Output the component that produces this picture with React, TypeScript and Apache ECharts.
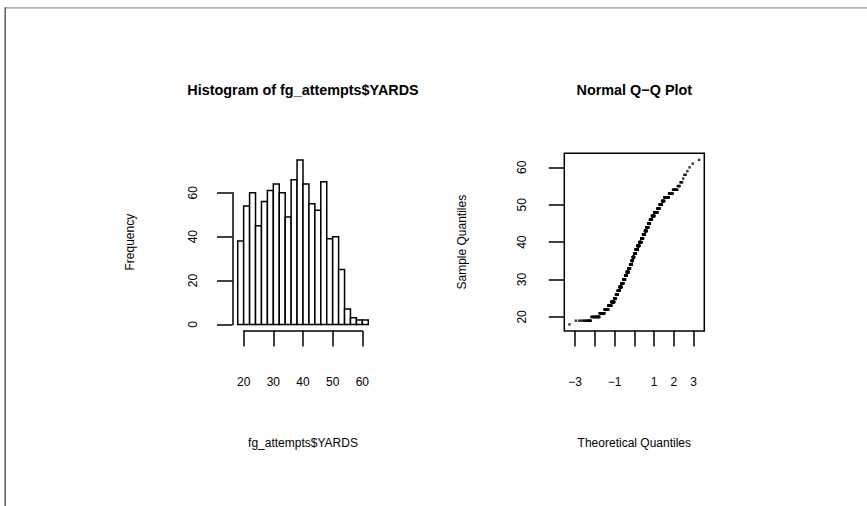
import React, { useEffect, useRef } from "react";
import * as echarts from "echarts";

// ---------- data ----------
const histTitle = "Histogram of fg_attempts$YARDS";
const histXLabel = "fg_attempts$YARDS";
const histYLabel = "Frequency";
const binEdges = [18, 20, 22, 24, 26, 28, 30, 32, 34, 36, 38, 40, 42, 44, 46, 48, 50, 52, 54, 56, 58, 60, 62];
const histCounts = [38, 54, 60, 45, 56, 61, 64, 60, 49, 66, 75, 64, 55, 52, 65, 39, 40, 25, 7, 3, 2, 2];
const histXTicks = [20, 30, 40, 50, 60];
const histYTicks = [0, 20, 40, 60];

const qqTitle = "Normal Q\u2212Q Plot";
const qqXLabel = "Theoretical Quantiles";
const qqYLabel = "Sample Quantiles";
const yardValues = [18, 19, 20, 21, 22, 23, 24, 25, 26, 27, 28, 29, 30, 31, 32, 33, 34, 35, 36, 37, 38, 39, 40,
  41, 42, 43, 44, 45, 46, 47, 48, 49, 50, 51, 52, 53, 54, 55, 56, 57, 58, 59, 60, 61, 62];
const yardCounts = [1, 13, 24, 26, 28, 28, 32, 21, 24, 27, 29, 30, 31, 31, 33, 29, 31, 23, 26, 32, 34, 36, 39,
  31, 33, 27, 28, 25, 27, 31, 34, 19, 20, 16, 24, 14, 11, 4, 3, 1, 2, 1, 1, 1, 1];
const qqXTicks = [-3, -2, -1, 0, 1, 2, 3];
const qqXTickLabels = ["\u22123", "", "\u22121", "", "1", "2", "3"];
const qqYTicks = [20, 30, 40, 50, 60];

// ---------- layout ----------
const FONT = '"Liberation Sans", Arial, Helvetica, sans-serif';
const LW = 1.5;
const histPlot = { left: 232.5, top: 153.3, width: 141, height: 177.7 };
const qqPlot = { left: 564.3, top: 153.3, width: 140, height: 177.7 };
const titleY = 90.3;

function qnorm(p: number): number {
  const a = [-3.969683028665376e1, 2.209460984245205e2, -2.759285104469687e2, 1.38357751867269e2, -3.066479806614716e1, 2.506628277459239];
  const b = [-5.447609879822406e1, 1.615858368580409e2, -1.556989798598866e2, 6.680131188771972e1, -1.328068155288572e1];
  const c = [-7.784894002430293e-3, -3.223964580411365e-1, -2.400758277161838, -2.549732539343734, 4.374664141464968, 2.938163982698783];
  const d = [7.784695709041462e-3, 3.224671290700398e-1, 2.445134137142996, 3.754408661907416];
  const pl = 0.02425;
  if (p < pl) {
    const q = Math.sqrt(-2 * Math.log(p));
    return (((((c[0] * q + c[1]) * q + c[2]) * q + c[3]) * q + c[4]) * q + c[5]) / ((((d[0] * q + d[1]) * q + d[2]) * q + d[3]) * q + 1);
  }
  if (p <= 1 - pl) {
    const q = p - 0.5;
    const r = q * q;
    return ((((((a[0] * r + a[1]) * r + a[2]) * r + a[3]) * r + a[4]) * r + a[5]) * q) / (((((b[0] * r + b[1]) * r + b[2]) * r + b[3]) * r + b[4]) * r + 1);
  }
  const q = Math.sqrt(-2 * Math.log(1 - p));
  return -(((((c[0] * q + c[1]) * q + c[2]) * q + c[3]) * q + c[4]) * q + c[5]) / ((((d[0] * q + d[1]) * q + d[2]) * q + d[3]) * q + 1);
}

function extend(lo: number, hi: number): [number, number] {
  const d = (hi - lo) * 0.04;
  return [lo - d, hi + d];
}

type Plot = { left: number; top: number; width: number; height: number };

function tickGrid(P: Plot, xr: number[], yr: number[], xt: number[], yt: number[]) {
  const px = (v: number) => P.left + ((v - xr[0]) / (xr[1] - xr[0])) * P.width;
  const py = (v: number) => P.top + P.height - ((v - yr[0]) / (yr[1] - yr[0])) * P.height;
  const x0 = px(xt[0]);
  const x1 = px(xt[xt.length - 1]);
  const y0 = py(yt[0]);
  const y1 = py(yt[yt.length - 1]);
  return {
    grid: { left: x0, top: y1, width: x1 - x0, height: y0 - y1, show: false, outerBoundsMode: "none", containLabel: false },
    xOffset: P.top + P.height - y0,
    yOffset: x0 - P.left,
  };
}

const lineStyle = { color: "#000", width: LW };
const textBase = { fontFamily: FONT, fontSize: 12, color: "#000" };

function hiddenAxis(min: number, max: number, gridIndex: number, name: string, gap: number) {
  return {
    type: "value",
    gridIndex,
    min,
    max,
    axisLine: { show: false, onZero: false },
    axisTick: { show: false },
    axisLabel: { show: false },
    splitLine: { show: false },
    name,
    nameLocation: "middle",
    nameGap: gap,
    nameTextStyle: { ...textBase, verticalAlign: "middle", align: "center" },
    silent: true,
  };
}

function tickXAxis(gridIndex: number, ticks: number[], offset: number, showLine: boolean, fmt: (v: number) => string) {
  return {
    type: "value",
    gridIndex,
    min: ticks[0],
    max: ticks[ticks.length - 1],
    interval: ticks[1] - ticks[0],
    offset,
    position: "bottom",
    axisLine: { show: showLine, onZero: false, lineStyle },
    axisTick: { show: true, inside: false, length: 15.5, lineStyle },
    axisLabel: { ...textBase, margin: 50.5, verticalAlign: "middle", align: "center", formatter: fmt, showMinLabel: true, showMaxLabel: true },
    splitLine: { show: false },
    silent: true,
  };
}

function tickYAxis(gridIndex: number, ticks: number[], offset: number, showLine: boolean, margin: number) {
  return {
    type: "value",
    gridIndex,
    min: ticks[0],
    max: ticks[ticks.length - 1],
    interval: ticks[1] - ticks[0],
    offset,
    position: "left",
    axisLine: { show: showLine, onZero: false, lineStyle },
    axisTick: { show: true, inside: false, length: 15.5, lineStyle },
    axisLabel: { ...textBase, margin, rotate: 90, verticalAlign: "middle", align: "center", showMinLabel: true, showMaxLabel: true },
    splitLine: { show: false },
    silent: true,
  };
}

function buildOption() {
  // histogram ranges
  const hxr = extend(binEdges[0], binEdges[binEdges.length - 1]);
  const hyr = extend(0, Math.max(...histCounts));
  const hTick = tickGrid(histPlot, hxr, hyr, histXTicks, histYTicks);

  // QQ data
  const sample: number[] = [];
  yardValues.forEach((v, i) => {
    for (let k = 0; k < yardCounts[i]; k++) sample.push(v);
  });
  sample.sort((a, b) => a - b);
  const n = sample.length;
  const qqData = sample.map((v, i) => [qnorm((i + 0.5) / n), v]);
  const qxr = extend(qqData[0][0], qqData[n - 1][0]);
  const qyr = extend(sample[0], sample[n - 1]);
  const qTick = tickGrid(qqPlot, qxr, qyr, qqXTicks, qqYTicks);

  const histData = histCounts.map((c, i) => [binEdges[i], binEdges[i + 1], c]);

  return {
    animation: false,
    backgroundColor: "#fff",
    grid: [
      { ...histPlot, show: false, outerBoundsMode: "none", containLabel: false },
      hTick.grid,
      { ...qqPlot, show: true, borderColor: "#000", borderWidth: LW, backgroundColor: "transparent", outerBoundsMode: "none", containLabel: false },
      qTick.grid,
    ],
    xAxis: [
      hiddenAxis(hxr[0], hxr[1], 0, histXLabel, 112),
      tickXAxis(1, histXTicks, hTick.xOffset, true, (v: number) => String(v)),
      hiddenAxis(qxr[0], qxr[1], 2, qqXLabel, 112),
      tickXAxis(3, qqXTicks, qTick.xOffset, false, (v: number) => {
        const idx = qqXTicks.indexOf(Math.round(v));
        return idx >= 0 ? qqXTickLabels[idx] : "";
      }),
    ],
    yAxis: [
      hiddenAxis(hyr[0], hyr[1], 0, histYLabel, 102.5),
      tickYAxis(1, histYTicks, hTick.yOffset, true, 40),
      hiddenAxis(qyr[0], qyr[1], 2, qqYLabel, 102.5),
      tickYAxis(3, qqYTicks, qTick.yOffset, false, 42),
    ],
    series: [
      {
        type: "custom",
        xAxisIndex: 0,
        yAxisIndex: 0,
        data: histData,
        encode: { x: [0, 1], y: 2 },
        silent: true,
        renderItem: (_params: any, api: any) => {
          const s = api.coord([api.value(0), api.value(2)]);
          const e = api.coord([api.value(1), 0]);
          return {
            type: "rect",
            shape: { x: s[0], y: s[1], width: e[0] - s[0], height: e[1] - s[1] },
            style: { fill: "#fff", stroke: "#000", lineWidth: LW },
          };
        },
      },
      {
        type: "scatter",
        xAxisIndex: 2,
        yAxisIndex: 2,
        data: qqData,
        symbol: "rect",
        symbolSize: 2.4,
        itemStyle: { color: "#000" },
        silent: true,
        large: false,
      },
    ],
    graphic: [
      {
        type: "line",
        shape: { x1: 5, y1: 7.8, x2: 867, y2: 7.8 },
        style: { stroke: "#9a9a9a", lineWidth: 1.3 },
        silent: true,
      },
      {
        type: "line",
        shape: { x1: 5.2, y1: 7.2, x2: 5.2, y2: 506 },
        style: { stroke: "#444", lineWidth: 1.3 },
        silent: true,
      },
      {
        type: "text",
        x: histPlot.left + histPlot.width / 2,
        y: titleY,
        style: { text: histTitle, fill: "#000", font: `bold 14.4px ${FONT}`, align: "center", verticalAlign: "middle" },
        silent: true,
      },
      {
        type: "text",
        x: qqPlot.left + qqPlot.width / 2,
        y: titleY,
        style: { text: qqTitle, fill: "#000", font: `bold 14.4px ${FONT}`, align: "center", verticalAlign: "middle" },
        silent: true,
      },
    ],
  };
}

export default function App() {
  const ref = useRef<HTMLDivElement>(null);
  useEffect(() => {
    if (!ref.current) return;
    const chart = echarts.init(ref.current, null, { renderer: "svg" });
    chart.setOption(buildOption() as any);
    return () => chart.dispose();
  }, []);
  return (
    <div
      ref={ref}
      style={{ position: "fixed", left: 0, top: 0, width: 867, height: 506, background: "#fff", overflow: "hidden" }}
    />
  );
}
